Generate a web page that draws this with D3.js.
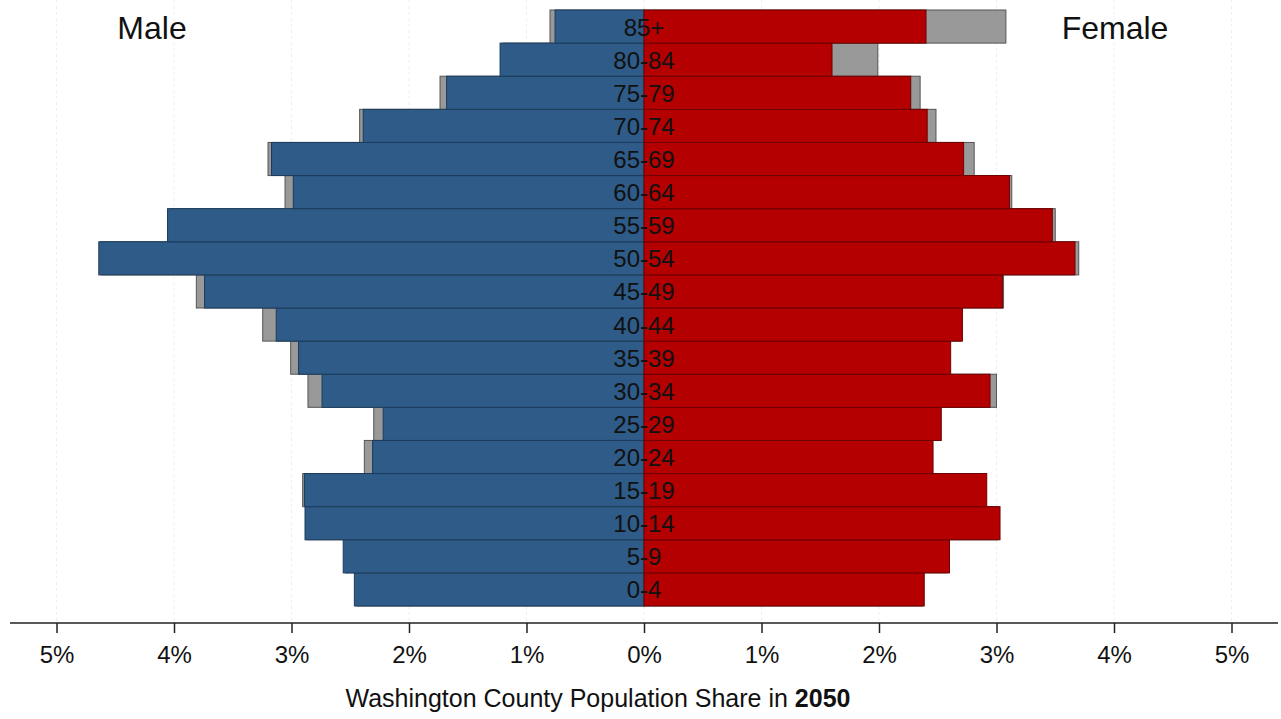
<!DOCTYPE html>
<html lang="en">
<head>
  <meta charset="UTF-8">
  <title>Washington County Population Share in 2050</title>
  <style>
    body { margin: 0; background: #fff; }
    svg { display: block; font-family: "Liberation Sans", Arial, sans-serif; }
  </style>
</head>
<body>
  <div id="pyramid"></div>

  <script src="https://d3js.org/d3.v7.min.js"></script>
  <script>

    // age groups, bottom to top
    const ages = ["0-4","5-9","10-14","15-19","20-24","25-29","30-34","35-39","40-44",
                  "45-49","50-54","55-59","60-64","65-69","70-74","75-79","80-84","85+"];

    // shares in percent
    const male       = [2.465, 2.56, 2.885, 2.89, 2.31, 2.22, 2.74, 2.94, 3.13,
                        3.74, 4.64, 4.055, 2.985, 3.17, 2.39, 1.68, 1.225, 0.757];
    const maleGray   = [2.44, 2.54, 2.87, 2.905, 2.38, 2.30, 2.86, 3.007, 3.245,
                        3.81, 4.62, 4.03, 3.055, 3.20, 2.42, 1.736, 1.20, 0.80];
    const female     = [2.385, 2.60, 3.03, 2.917, 2.46, 2.53, 2.945, 2.61, 2.71,
                        3.05, 3.668, 3.475, 3.11, 2.72, 2.41, 2.27, 1.60, 2.40];
    const femaleGray = [2.37, 2.58, 3.01, 2.90, 2.44, 2.52, 3.00, 2.60, 2.70,
                        3.06, 3.70, 3.50, 3.13, 2.81, 2.485, 2.35, 1.99, 3.08];

    const ticks = [-5, -4, -3, -2, -1, 0, 1, 2, 3, 4, 5];

    const width = 1281,
          height = 719;

    const svg = d3.select("#pyramid")
      .append("svg")
      .attr("width", width)
      .attr("height", height);

    // 0% sits at 644, 5% at about 1231
    let x = d3.scaleLinear([-5, 5], [56.5, 1231.5]);
    let y = d3.scaleBand(ages.slice().reverse(), [10, 606]).padding(0);

    // faint gridlines
    svg.append("g")
      .selectAll("line")
      .data(ticks)
      .join("line")
      .attr("x1", d => x(d)).attr("x2", d => x(d))
      .attr("y1", 0).attr("y2", 622)
      .attr("stroke", "#eeeeee")
      .attr("stroke-dasharray", "3,3");

    const rows = ages.map((a, i) => ({age: a, m: male[i], mg: maleGray[i], f: female[i], fg: femaleGray[i]}));

    // gray comparison bars (behind)
    svg.append("g")
      .selectAll("rect")
      .data(rows)
      .join("rect")
      .attr("x", d => x(-d.mg))
      .attr("y", d => y(d.age))
      .attr("width", d => x(0) - x(-d.mg))
      .attr("height", y.bandwidth())
      .attr("fill", "#999999")
      .attr("stroke", "#555555")
      .attr("stroke-width", 1);

    svg.append("g")
      .selectAll("rect")
      .data(rows)
      .join("rect")
      .attr("x", x(0))
      .attr("y", d => y(d.age))
      .attr("width", d => x(d.fg) - x(0))
      .attr("height", y.bandwidth())
      .attr("fill", "#999999")
      .attr("stroke", "#555555")
      .attr("stroke-width", 1);

    // male bars
    svg.append("g")
      .selectAll("rect")
      .data(rows)
      .join("rect")
      .attr("x", d => x(-d.m))
      .attr("y", d => y(d.age))
      .attr("width", d => x(0) - x(-d.m))
      .attr("height", y.bandwidth())
      .attr("fill", "#2e5b87")
      .attr("stroke", "#1c3c5c")
      .attr("stroke-width", 1);

    // female bars
    svg.append("g")
      .selectAll("rect")
      .data(rows)
      .join("rect")
      .attr("x", x(0))
      .attr("y", d => y(d.age))
      .attr("width", d => x(d.f) - x(0))
      .attr("height", y.bandwidth())
      .attr("fill", "#b40000")
      .attr("stroke", "#6e0000")
      .attr("stroke-width", 1);

    // age labels
    svg.append("g")
      .selectAll("text")
      .data(ages)
      .join("text")
      .attr("x", x(0))
      .attr("y", d => y(d) + y.bandwidth() / 2 + 9)
      .attr("text-anchor", "middle")
      .style("font-size", "24px")
      .attr("fill", "#111")
      .text(d => d);

    // x axis
    const axis = svg.append("g")
      .attr("transform", "translate(0,623)")
      .call(d3.axisBottom(x)
        .tickValues(ticks)
        .tickSize(10)
        .tickPadding(13)
        .tickSizeOuter(0)
        .tickFormat(d => Math.abs(d) + "%"));

    axis.select(".domain").remove();
    axis.append("line")
      .attr("x1", 10).attr("x2", 1278)
      .attr("stroke", "#222").attr("stroke-width", 1.5);
    axis.selectAll(".tick line").attr("stroke", "#222").attr("stroke-width", 1.5);
    axis.selectAll(".tick text")
      .attr("fill", "#111")
      .style("font-size", "24px")
      .style("font-family", "'Liberation Sans', Arial, sans-serif");

    // axis title
    const title = svg.append("text")
      .attr("x", 598)
      .attr("y", 707)
      .attr("text-anchor", "middle")
      .style("font-size", "25px")
      .attr("fill", "#111");
    title.append("tspan").text("Washington County Population Share in ");
    title.append("tspan").style("font-weight", "bold").text("2050");

    // side labels
    svg.append("text")
      .attr("x", 152).attr("y", 39)
      .attr("text-anchor", "middle")
      .style("font-size", "32px")
      .attr("fill", "#111")
      .text("Male");

    svg.append("text")
      .attr("x", 1115).attr("y", 39)
      .attr("text-anchor", "middle")
      .style("font-size", "32px")
      .attr("fill", "#111")
      .text("Female");

  </script>
</body>
</html>
